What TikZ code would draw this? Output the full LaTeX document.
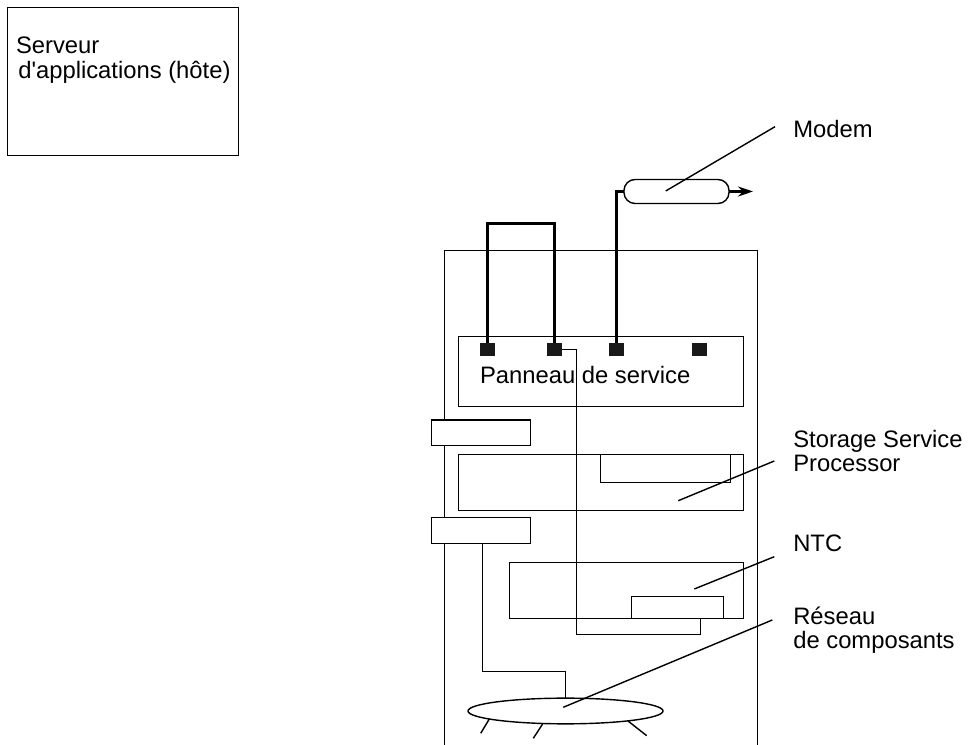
\documentclass[tikz,border=0pt]{standalone}
\usepackage{fontspec}
\setmainfont{Liberation Sans}
\usetikzlibrary{arrows.meta,shapes.geometric}

\tikzset{
  box/.style={draw,line width=0.4pt,fill=white,inner sep=0pt,outer sep=0pt},
  port/.style={fill=black!90,inner sep=0pt,outer sep=0pt,minimum width=0.15cm,minimum height=0.127cm},
  wire/.style={line width=0.4pt},
  cable/.style={line width=0.75pt},
  label/.style={anchor=base west,inner sep=0pt,outer sep=0pt,align=left,font=\fontsize{6.77}{6.91}\selectfont}
}

\begin{document}
\begin{tikzpicture}
\useasboundingbox (0,0) rectangle (9.7,7.45);

\coordinate (cabA) at (4.445,0);
\coordinate (cabB) at (4.445,4.945);
\coordinate (cabC) at (7.575,4.945);
\coordinate (cabD) at (7.575,0);
\draw[wire] (cabA)--(cabB)--(cabC)--(cabD);

\node[box,minimum width=2.31cm,minimum height=1.48cm] (host) at (1.23,6.635) {};
\node[box,minimum width=2.85cm,minimum height=0.70cm] (panel) at (6.01,3.735) {};
\node[box,minimum width=0.986cm,minimum height=0.257cm] (cardA) at (4.81,3.122) {};
\node[box,minimum width=0.986cm,minimum height=0.257cm] (cardB) at (4.81,2.145) {};
\node[box,minimum width=2.85cm,minimum height=0.56cm] (ssp) at (6.01,2.625) {};
\node[box,minimum width=1.30cm,minimum height=0.28cm] (sspcard) at (6.655,2.765) {};
\node[box,minimum width=2.34cm,minimum height=0.56cm] (ntc) at (6.265,1.545) {};
\node[box,minimum width=0.92cm,minimum height=0.22cm] (ntccard) at (6.775,1.375) {};
\node[box,rounded corners=0.11cm,minimum width=1.05cm,minimum height=0.24cm] (modem) at (6.765,5.535) {};
\node[box,ellipse,minimum width=1.95cm,minimum height=0.257cm] (net) at (5.655,0.34) {};

\node[port] (portA) at (4.875,3.956) {};
\node[port] (portB) at (5.545,3.956) {};
\node[port] (portC) at (6.165,3.956) {};
\node[port] (portD) at (6.995,3.956) {};

\coordinate (jump) at (4.875,5.213);
\coordinate (wireLow) at (5.765,1.105);
\coordinate (wireEnd) at (7.005,1.265);
\coordinate (netBend) at (4.825,0.735);
\coordinate (modemOut) at (7.53,5.535);

\draw[cable] (portA.north)--(jump)-|(portB.north);
\draw[cable] (portC.north)|-(modem.west);
\draw[cable,-{Stealth[length=0.15cm,width=0.1cm]}] (modem.east)--(modemOut);
\draw[wire] (portB.east)-|(wireLow)-|(wireEnd);
\draw[wire] (netBend |- cardB.south)--(netBend)-|(net.north);

\coordinate (tickA) at (4.807,0.117);
\coordinate (tickB) at (5.333,0.067);
\coordinate (tickC) at (6.467,0.093);
\draw[wire] (net.186.9)--(tickA);
\draw[wire] (net.209.8)--(tickB);
\draw[wire] (net.351.8)--(tickC);

\coordinate (modemLead) at (7.75,6.183);
\coordinate (modemTip) at (6.657,5.54);
\coordinate (sspLead) at (7.743,2.84);
\coordinate (sspTip) at (6.783,2.443);
\coordinate (ntcLead) at (7.743,1.883);
\coordinate (ntcTip) at (6.943,1.56);
\coordinate (netLead) at (7.723,1.25);
\coordinate (netTip) at (5.633,0.377);
\draw[wire] (modemLead)--(modemTip);
\draw[wire] (sspLead)--(sspTip);
\draw[wire] (ntcLead)--(ntcTip);
\draw[wire] (netLead)--(netTip);

\node[label] (hostText) at (0.16,6.66) {Serveur\\[0.4pt]\hspace*{0.65pt}d\textquotesingle applications (hôte)};
\node[label] (panelText) at (4.80,3.617) {Panneau de service};
\node[label] (modemText) at (7.933,6.07) {Modem};
\node[label] (sspText) at (7.933,2.733) {Storage Service\\Processor};
\node[label] (ntcText) at (7.933,1.933) {NTC};
\node[label] (netText) at (7.933,0.967) {Réseau\\de composants};

\end{tikzpicture}
\end{document}
